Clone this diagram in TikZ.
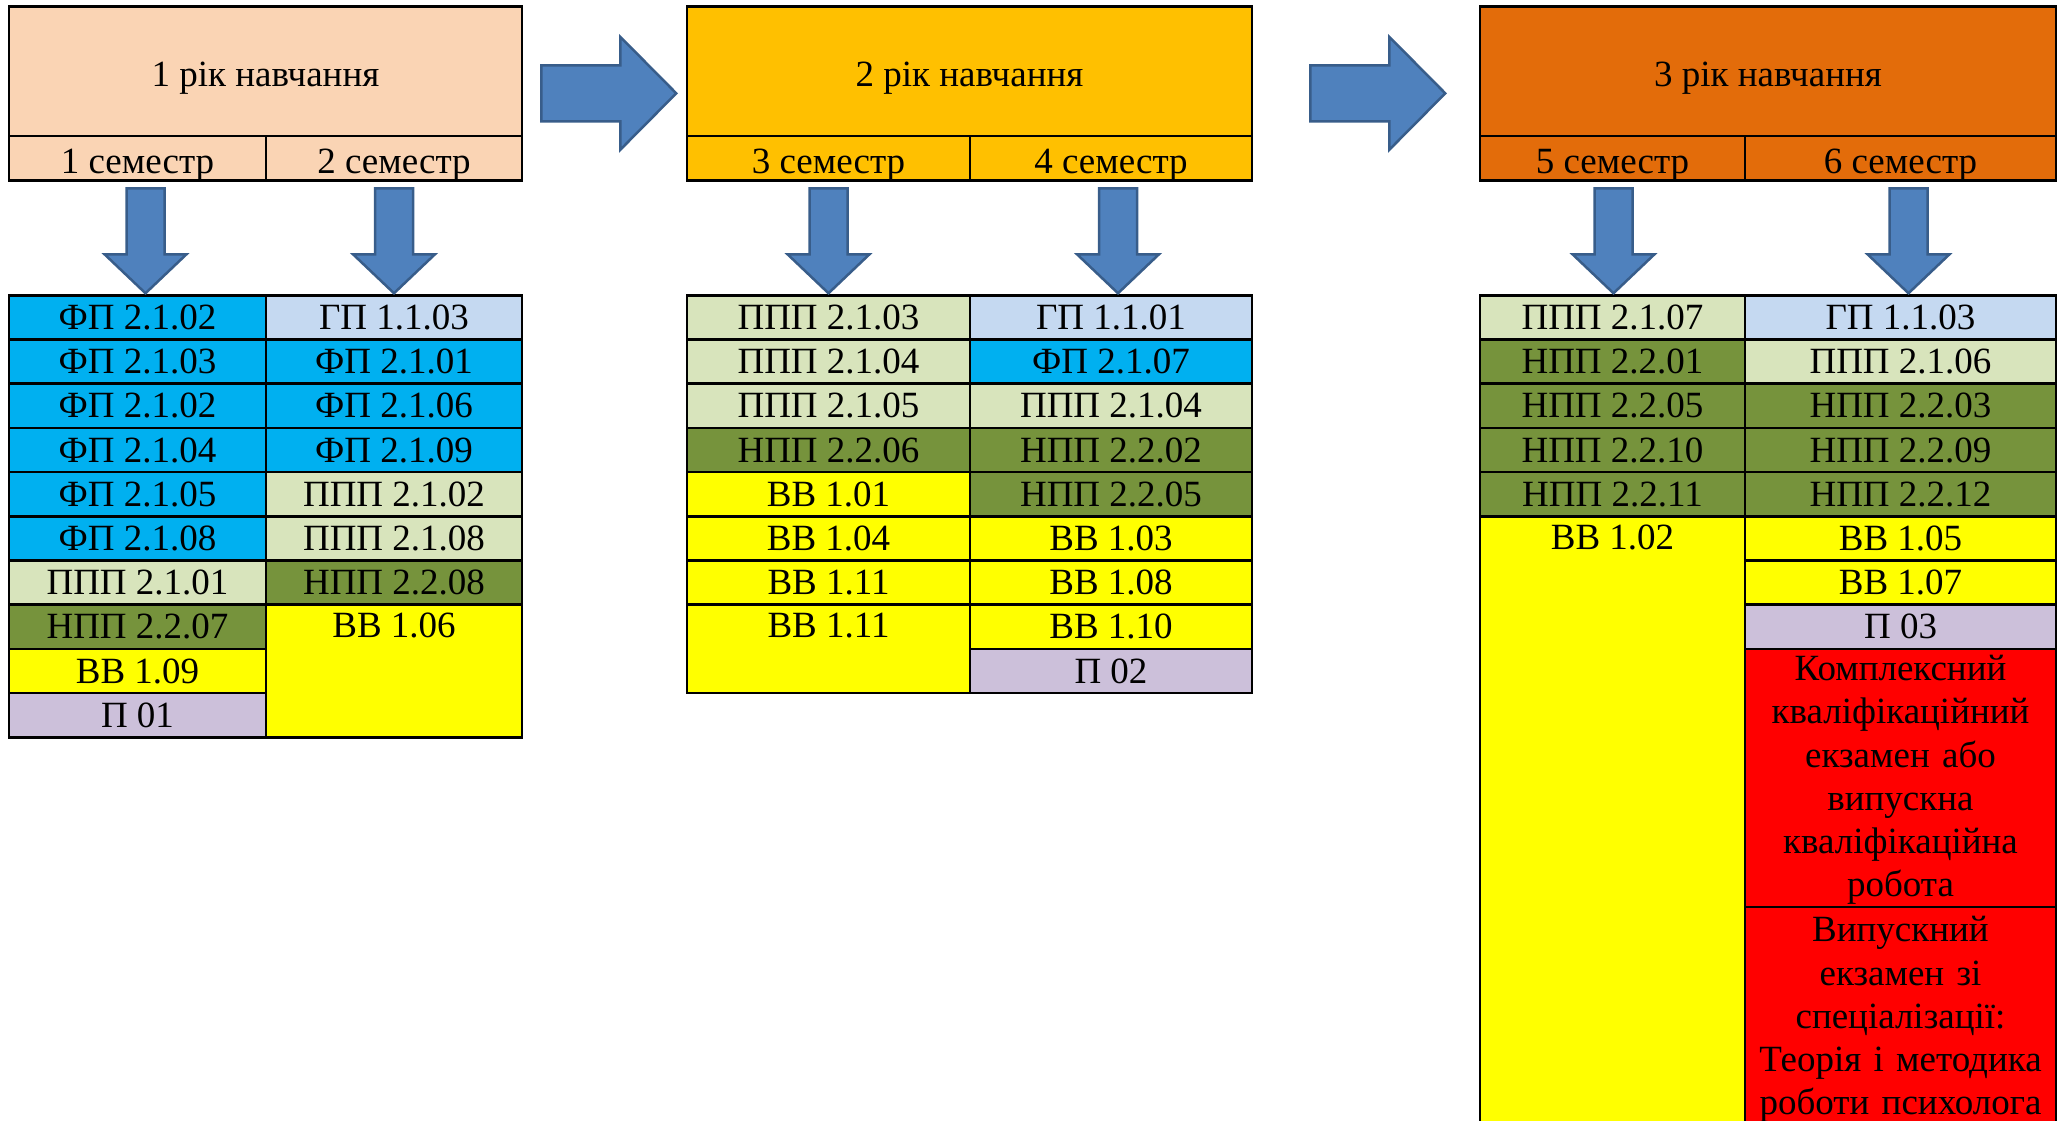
\documentclass[tikz,border=0pt]{standalone}
\usepackage{fontspec}
\setmainfont{Liberation Serif}
\definecolor{peach}{HTML}{FAD4B4}
\definecolor{gold}{HTML}{FFC000}
\definecolor{rust}{HTML}{E36C0A}
\definecolor{fpblue}{HTML}{00B0F0}
\definecolor{gpblue}{HTML}{C5D9F1}
\definecolor{pppgreen}{HTML}{D8E4BC}
\definecolor{nppgreen}{HTML}{76933C}
\definecolor{vvyellow}{HTML}{FFFF00}
\definecolor{plilac}{HTML}{CCC0DA}
\definecolor{exred}{HTML}{FF0000}
\definecolor{arrfill}{HTML}{4F81BD}
\definecolor{arrdraw}{HTML}{385D8A}
\newcommand{\cellfont}{\fontsize{37}{43.2}\selectfont}
% block arrow from semester downwards
\newcommand{\blockdown}[2]{%
  \draw[blockarr] ([xshift={#2-19},yshift=-6.6]#1.south) -- ++(38,0) -- ++(0,66) -- ++(22,0)
    -- ++(-41,39) -- ++(-41,-39) -- ++(22,0) -- cycle;}
% block arrow between years
\newcommand{\blockright}[2]{%
  \draw[blockarr] ([xshift=#2,yshift=6]#1.east) -- ++(79,0) -- ++(0,-28.5) -- ++(56,56.5)
    -- ++(-56,56.5) -- ++(0,-28.5) -- ++(-79,0) -- cycle;}
\begin{document}
\begin{tikzpicture}[x=1pt,y=-1pt,
    cell/.style={draw,line width=2.5,minimum height=44.2,inner sep=0,font=\cellfont},
    head/.style={cell,text height=30.5,text depth=0},
    yearbox/.style={head,minimum height=129.4},
    labtop/.style={anchor=north,minimum height=44.2,inner sep=0,font=\cellfont},
    extop/.style={labtop,align=center,text width=300},
    blockarr/.style={fill=arrfill,draw=arrdraw,line width=2.5,line join=miter},
    wa/.style={minimum width=257}, wb/.style={minimum width=256},
    wc/.style={minimum width=283}, wd/.style={minimum width=282},
    we/.style={minimum width=265}, wf/.style={minimum width=311},
    fp/.style={cell,fill=fpblue}, gp/.style={cell,fill=gpblue},
    ppp/.style={cell,fill=pppgreen}, npp/.style={cell,fill=nppgreen},
    vv/.style={cell,fill=vvyellow}, pr/.style={cell,fill=plilac},
    ex/.style={cell,fill=exred}]
    \useasboundingbox (0,0) rectangle (2067,1120);
    \clip (0,0) rectangle (2067,1120);
    % years
    \node[yearbox,fill=peach,minimum width=513] (y1) at (265.5,71.3) {1 рік навчання};
    \node[yearbox,fill=gold,minimum width=565] (y2) at (969.5,71.3) {2 рік навчання};
    \node[yearbox,fill=rust,minimum width=576] (y3) at (1768,71.3) {3 рік навчання};
    \node[head,wa,fill=peach] (s1) at (137.5,158.3) {1 семестр};
    \node[head,wb,fill=peach] (s2) at (394,158.3) {2 семестр};
    \node[head,wc,fill=gold] (s3) at (828.5,158.3) {3 семестр};
    \node[head,wd,fill=gold] (s4) at (1111,158.3) {4 семестр};
    \node[head,we,fill=rust] (s5) at (1612.5,158.3) {5 семестр};
    \node[head,wf,fill=rust] (s6) at (1900.5,158.3) {6 семестр};
    % 1 semester
    \node[fp,wa] (t1a) at (137.5,317.4) {ФП 2.1.02};
    \node[fp,wa] (t1b) at (137.5,361.6) {ФП 2.1.03};
    \node[fp,wa] (t1c) at (137.5,405.8) {ФП 2.1.02};
    \node[fp,wa] (t1d) at (137.5,450.0) {ФП 2.1.04};
    \node[fp,wa] (t1e) at (137.5,494.2) {ФП 2.1.05};
    \node[fp,wa] (t1f) at (137.5,538.4) {ФП 2.1.08};
    \node[ppp,wa] (t1g) at (137.5,582.6) {ППП 2.1.01};
    \node[npp,wa] (t1h) at (137.5,626.8) {НПП 2.2.07};
    \node[vv,wa] (t1i) at (137.5,671.0) {ВВ 1.09};
    \node[pr,wa] (t1j) at (137.5,715.2) {П 01};
    % 2 semester
    \node[gp,wb] (t2a) at (394,317.4) {ГП 1.1.03};
    \node[fp,wb] (t2b) at (394,361.6) {ФП 2.1.01};
    \node[fp,wb] (t2c) at (394,405.8) {ФП 2.1.06};
    \node[fp,wb] (t2d) at (394,450.0) {ФП 2.1.09};
    \node[ppp,wb] (t2e) at (394,494.2) {ППП 2.1.02};
    \node[ppp,wb] (t2f) at (394,538.4) {ППП 2.1.08};
    \node[npp,wb] (t2g) at (394,582.6) {НПП 2.2.08};
    \node[vv,wb,minimum height=132.6,label={[labtop]north:ВВ 1.06}] (t2h) at (394,671.0) {};
    % 3 semester
    \node[ppp,wc] (t3a) at (828.5,317.4) {ППП 2.1.03};
    \node[ppp,wc] (t3b) at (828.5,361.6) {ППП 2.1.04};
    \node[ppp,wc] (t3c) at (828.5,405.8) {ППП 2.1.05};
    \node[npp,wc] (t3d) at (828.5,450.0) {НПП 2.2.06};
    \node[vv,wc] (t3e) at (828.5,494.2) {ВВ 1.01};
    \node[vv,wc] (t3f) at (828.5,538.4) {ВВ 1.04};
    \node[vv,wc] (t3g) at (828.5,582.6) {ВВ 1.11};
    \node[vv,wc,minimum height=88.4,label={[labtop]north:ВВ 1.11}] (t3h) at (828.5,648.9) {};
    % 4 semester
    \node[gp,wd] (t4a) at (1111,317.4) {ГП 1.1.01};
    \node[fp,wd] (t4b) at (1111,361.6) {ФП 2.1.07};
    \node[ppp,wd] (t4c) at (1111,405.8) {ППП 2.1.04};
    \node[npp,wd] (t4d) at (1111,450.0) {НПП 2.2.02};
    \node[npp,wd] (t4e) at (1111,494.2) {НПП 2.2.05};
    \node[vv,wd] (t4f) at (1111,538.4) {ВВ 1.03};
    \node[vv,wd] (t4g) at (1111,582.6) {ВВ 1.08};
    \node[vv,wd] (t4h) at (1111,626.8) {ВВ 1.10};
    \node[pr,wd] (t4i) at (1111,671.0) {П 02};
    % 5 semester
    \node[ppp,we] (t5a) at (1612.5,317.4) {ППП 2.1.07};
    \node[npp,we] (t5b) at (1612.5,361.6) {НПП 2.2.01};
    \node[npp,we] (t5c) at (1612.5,405.8) {НПП 2.2.05};
    \node[npp,we] (t5d) at (1612.5,450.0) {НПП 2.2.10};
    \node[npp,we] (t5e) at (1612.5,494.2) {НПП 2.2.11};
    \node[vv,we,minimum height=623.7,label={[labtop]north:ВВ 1.02}] (t5f) at (1612.5,828.15) {};
    % 6 semester
    \node[gp,wf] (t6a) at (1900.5,317.4) {ГП 1.1.03};
    \node[ppp,wf] (t6b) at (1900.5,361.6) {ППП 2.1.06};
    \node[npp,wf] (t6c) at (1900.5,405.8) {НПП 2.2.03};
    \node[npp,wf] (t6d) at (1900.5,450.0) {НПП 2.2.09};
    \node[npp,wf] (t6e) at (1900.5,494.2) {НПП 2.2.12};
    \node[vv,wf] (t6f) at (1900.5,538.4) {ВВ 1.05};
    \node[vv,wf] (t6g) at (1900.5,582.6) {ВВ 1.07};
    \node[pr,wf] (t6h) at (1900.5,626.8) {П 03};
    \node[ex,wf,minimum height=258.1,label={[extop,yshift=-7.6]north:Комплексний\\кваліфікаційний\\екзамен або\\випускна\\кваліфікаційна\\робота}] (t6i) at (1900.5,777.95) {};
    \node[ex,wf,minimum height=233,label={[extop,yshift=-10.6]north:Випускний\\екзамен зі\\спеціалізації:\\Теорія і методика\\роботи психолога}] (t6j) at (1900.5,1023.5) {};
    % arrows
    \blockright{y1}{18}
    \blockright{y2}{57}
    \blockdown{s1}{8}
    \blockdown{s2}{0}
    \blockdown{s3}{0}
    \blockdown{s4}{7}
    \blockdown{s5}{1}
    \blockdown{s6}{8}
\end{tikzpicture}
\end{document}
